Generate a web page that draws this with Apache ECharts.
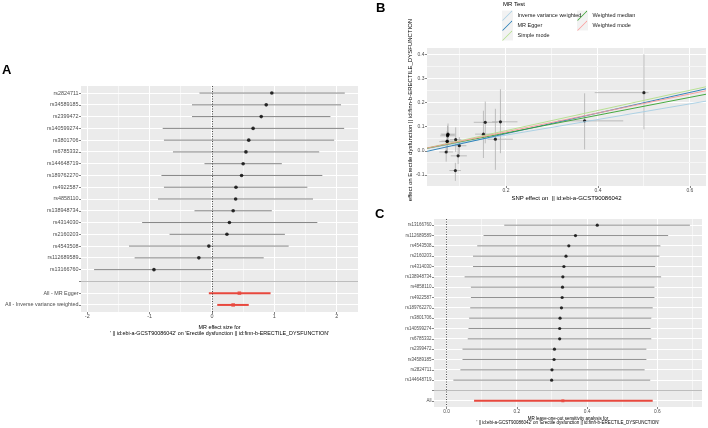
<!DOCTYPE html>
<html><head><meta charset="utf-8">
<script src="https://cdn.jsdelivr.net/npm/echarts@6/dist/echarts.min.js"></script>
<style>html,body{margin:0;padding:0;background:#fff}#c{width:708px;height:428px}</style>
</head><body><div id="c"></div>
<script>
const FONT = '"Liberation Sans", Arial, Helvetica, sans-serif';

// ---------- Panel A : forest plot ----------
const snpA = ['rs2824711','rs34589185','rs2399472','rs140599274','rs3801706','rs6785332','rs144648719','rs189762270','rs4922587','rs4858110','rs138948734','rs4314030','rs2160203','rs4543508','rs112689589','rs13166760'];
const betaA = [0.96,0.87,0.79,0.66,0.59,0.545,0.50,0.475,0.385,0.38,0.34,0.28,0.24,-0.05,-0.21,-0.93];
const lowA  = [-0.20,-0.32,-0.32,-0.79,-0.77,-0.625,-0.12,-0.81,-0.77,-0.865,-0.28,-1.12,-0.68,-1.33,-1.24,-1.89];
const highA = [2.13,2.07,1.90,2.12,1.96,1.72,1.12,1.77,1.53,1.62,0.96,1.69,1.17,1.23,0.83,0.02];
const summaryLabelsA = ['All - MR Egger','All - Inverse variance weighted'];
const summaryBetaA = [0.44,0.34];
const summaryLowA  = [-0.05,0.085];
const summaryHighA = [0.94,0.59];
const ticksA = [-2,-1,0,1,2];
const minorTicksA = [-1.5,-0.5,0.5,1.5];

// ---------- Panel B : scatter plot ----------
const snpXB    = [0.500,0.371,0.188,0.155,0.151,0.177,0.074,0.0735,0.073,0.0725,0.072,0.0907,0.0985,0.070,0.096,0.090];
const snpYB    = [0.241,0.124,0.120,0.118,0.069,0.048,0.069,0.066,0.062,0.038,0.040,0.046,0.021,-0.005,-0.021,-0.082];
const snpXLoB  = [0.393,0.313,0.170,0.130,0.133,0.160,0.058,0.060,0.057,0.055,0.060,0.078,0.083,0.055,0.080,0.077];
const snpXHiB  = [0.510,0.455,0.225,0.182,0.172,0.215,0.090,0.088,0.089,0.090,0.085,0.103,0.114,0.085,0.115,0.102];
const snpYLoB  = [0.089,0.006,-0.010,0.031,-0.030,-0.079,0.025,0.030,0.020,-0.005,0.000,-0.005,-0.015,-0.045,-0.055,-0.125];
const snpYHiB  = [0.400,0.238,0.255,0.204,0.166,0.174,0.113,0.100,0.104,0.081,0.080,0.097,0.057,0.035,0.013,-0.050];
const mrMethods   = ['Inverse variance weighted','MR Egger','Simple mode','Weighted median','Weighted mode'];
const mrSlope     = [0.324,0.427,0.418,0.369,0.392];
const mrIntercept = [0,-0.0144,0,0,0];
const mrColors    = ['#A6CEE3','#1F78B4','#B2DF8A','#33A02C','#FB9A99'];
const ticksXB = [0.2,0.4,0.6];
const minorXB = [0.1,0.3,0.5];
const ticksYB = [-0.1,0.0,0.1,0.2,0.3,0.4];
const minorYB = [-0.05,0.05,0.15,0.25,0.35];

// ---------- Panel C : leave-one-out ----------
const snpC = ['rs13166760','rs112689589','rs4543508','rs2160203','rs4314030','rs138948734','rs4858110','rs4922587','rs189762270','rs3801706','rs140599274','rs6785332','rs2399472','rs34589185','rs2824711','rs144648719'];
const betaC = [0.429,0.367,0.348,0.340,0.334,0.331,0.330,0.329,0.327,0.323,0.322,0.322,0.307,0.306,0.300,0.299];
const lowC  = [0.164,0.105,0.087,0.075,0.075,0.051,0.069,0.069,0.067,0.064,0.062,0.060,0.045,0.045,0.039,0.019];
const highC = [0.693,0.631,0.609,0.606,0.594,0.611,0.592,0.592,0.587,0.583,0.581,0.583,0.569,0.569,0.564,0.580];
const allLabelC = 'All';
const allBetaC = 0.331, allLowC = 0.078, allHighC = 0.587;
const ticksC = [0.0,0.2,0.4,0.6];
const minorTicksC = [0.1,0.3,0.5,0.7];

// ---------- build ----------
const catsA = snpA.concat([''], summaryLabelsA);
const catsC = snpC.concat(['', allLabelC]);
const rowsA = catsA.map((c,i)=>i);
const rowsC = catsC.map((c,i)=>i);

const XA = [-2.1, 2.342];
const YA = [-0.6, rowsA.length-1+0.6];
const XB = [0.0283, 0.635];
const YB = [-0.146, 0.426];
const XC = [-0.0362, 0.7275];
const YC = [-0.6, rowsC.length-1+0.6];

const tickLab = {color:'#4d4d4d', fontFamily:FONT};
const GRID_BG = '#ebebeb';

function valueAxis(gridIndex, range, ticks, fs, fmt, extra){
  return Object.assign({
    type:'value', gridIndex, min:range[0], max:range[1],
    axisLine:{show:false, onZero:false},
    axisTick:{show:true, length:2, lineStyle:{color:'#333', width:0.6}, customValues:ticks},
    axisLabel:Object.assign({fontSize:fs, margin:2.5, customValues:ticks, formatter:fmt}, tickLab),
    splitLine:{show:false}
  }, extra||{});
}
function rowAxis(gridIndex, cats, range, rows, fs){
  return {type:'value', gridIndex, inverse:true, min:range[0], max:range[1],
    axisLine:{show:false, onZero:false},
    axisTick:{show:true, length:2, lineStyle:{color:'#333', width:0.6}, customValues:rows},
    axisLabel:Object.assign({fontSize:fs, margin:2.5, customValues:rows, formatter:v=>cats[Math.round(v)]}, tickLab),
    splitLine:{show:false}};
}
const snap = p => Math.floor(p) + 0.5;
// white panel grid lines, placed through the axes' own scales (pixel-snapped for crispness)
function gridLines(xi, yi, vals, vertical, color, otherRange){
  const mid = (otherRange[0]+otherRange[1])/2;
  return {type:'custom', xAxisIndex:xi, yAxisIndex:yi, z:2, silent:true,
    data:vals.map(v => vertical ? [v, mid] : [mid, v]),
    encode:{x:0, y:1},
    renderItem:function(params, api){
      const v = vertical ? api.value(0) : api.value(1);
      const a = vertical ? api.coord([v, otherRange[0]]) : api.coord([otherRange[0], v]);
      const b = vertical ? api.coord([v, otherRange[1]]) : api.coord([otherRange[1], v]);
      const shape = vertical ? {x1:snap(a[0]), y1:a[1], x2:snap(b[0]), y2:b[1]}
                             : {x1:a[0], y1:snap(a[1]), x2:b[0], y2:snap(b[1])};
      return {type:'line', shape, style:{stroke:color, lineWidth:1}};
    }};
}
function hBar(color, width){
  return function(params, api){
    const a = api.coord([api.value(0), api.value(2)]);
    const b = api.coord([api.value(1), api.value(2)]);
    return {type:'line', silent:true, shape:{x1:a[0],y1:a[1],x2:b[0],y2:b[1]}, style:{stroke:color, lineWidth:width}};
  };
}
function crossBars(params, api){
  const c1 = api.coord([api.value(2), api.value(1)]);
  const c2 = api.coord([api.value(3), api.value(1)]);
  const c3 = api.coord([api.value(0), api.value(4)]);
  const c4 = api.coord([api.value(0), api.value(5)]);
  return {type:'group', silent:true, children:[
    {type:'line', shape:{x1:c1[0],y1:c1[1],x2:c2[0],y2:c2[1]}, style:{stroke:'#b0b0b0', lineWidth:0.8}},
    {type:'line', shape:{x1:c3[0],y1:c3[1],x2:c4[0],y2:c4[1]}, style:{stroke:'#b0b0b0', lineWidth:0.8}}
  ]};
}
const fmt1 = v => v.toFixed(1);
const fmt0 = v => String(Math.round(v));
function zeroLine(){ return {silent:true, symbol:'none', label:{show:false},
  lineStyle:{type:[1,1.5], color:'#222', width:0.8}, data:[{xAxis:0}]}; }
function sepLine(row){ return {silent:true, symbol:'none', label:{show:false},
  lineStyle:{type:'solid', color:'#bdbdbd', width:1}, data:[{yAxis:row}]}; }

const MAJOR = '#ffffff', MINOR = '#f6f6f6';
const series = [];
// grid lines
series.push(gridLines(0,0,minorTicksA,true,MINOR,YA));
series.push(gridLines(0,0,ticksA,true,MAJOR,YA));
series.push(gridLines(0,0,rowsA,false,MAJOR,XA));
series.push(gridLines(1,1,minorXB,true,MINOR,YB));
series.push(gridLines(1,1,ticksXB,true,MAJOR,YB));
series.push(gridLines(1,1,minorYB,false,MINOR,XB));
series.push(gridLines(1,1,ticksYB,false,MAJOR,XB));
series.push(gridLines(2,2,minorTicksC,true,MINOR,YC));
series.push(gridLines(2,2,ticksC,true,MAJOR,YC));
series.push(gridLines(2,2,rowsC,false,MAJOR,XC));
// A
series.push({type:'custom', name:'A-ci', xAxisIndex:0, yAxisIndex:0, z:3,
  data:snpA.map((s,i)=>[lowA[i], highA[i], rowsA[i]]), encode:{x:[0,1], y:2},
  renderItem:hBar('#858585', 1), markLine:sepLine(snpA.length)});
series.push({type:'custom', name:'A-sum-ci', xAxisIndex:0, yAxisIndex:0, z:3,
  data:summaryLabelsA.map((s,i)=>[summaryLowA[i], summaryHighA[i], rowsA[snpA.length+1+i]]), encode:{x:[0,1], y:2},
  renderItem:hBar('#e8483e', 2)});
series.push({type:'scatter', name:'A-pt', xAxisIndex:0, yAxisIndex:0, z:4, symbol:'circle', symbolSize:3.6,
  itemStyle:{color:'#000'}, silent:true, data:snpA.map((s,i)=>[betaA[i], rowsA[i]]), markLine:zeroLine()});
series.push({type:'scatter', name:'A-sum-pt', xAxisIndex:0, yAxisIndex:0, z:4, symbol:'rect', symbolSize:3.6,
  itemStyle:{color:'#e8483e'}, silent:true, data:summaryLabelsA.map((s,i)=>[summaryBetaA[i], rowsA[snpA.length+1+i]])});
// B
series.push({type:'custom', name:'B-ci', xAxisIndex:1, yAxisIndex:1, z:3,
  data:snpXB.map((x,i)=>[x, snpYB[i], snpXLoB[i], snpXHiB[i], snpYLoB[i], snpYHiB[i]]),
  encode:{x:[0,2,3], y:[1,4,5]}, renderItem:crossBars});
series.push({type:'scatter', name:'B-pt', xAxisIndex:1, yAxisIndex:1, z:4, symbolSize:3.2, silent:true,
  itemStyle:{color:'#000'}, data:snpXB.map((x,i)=>[x, snpYB[i]])});
mrMethods.forEach((m,k)=>{
  series.push({type:'line', name:m, xAxisIndex:1, yAxisIndex:1, z:6, symbol:'none', silent:true, clip:true,
    lineStyle:{color:mrColors[k], width:0.9}, itemStyle:{color:mrColors[k]},
    data:[[XB[0], mrIntercept[k]+mrSlope[k]*XB[0]], [XB[1], mrIntercept[k]+mrSlope[k]*XB[1]]]});
});
// C
series.push({type:'custom', name:'C-ci', xAxisIndex:2, yAxisIndex:2, z:3,
  data:snpC.map((s,i)=>[lowC[i], highC[i], rowsC[i]]), encode:{x:[0,1], y:2},
  renderItem:hBar('#858585', 0.9), markLine:sepLine(snpC.length)});
series.push({type:'custom', name:'C-all-ci', xAxisIndex:2, yAxisIndex:2, z:3,
  data:[[allLowC, allHighC, rowsC[snpC.length+1]]], encode:{x:[0,1], y:2}, renderItem:hBar('#e8483e', 2)});
series.push({type:'scatter', name:'C-pt', xAxisIndex:2, yAxisIndex:2, z:4, symbolSize:3.2, silent:true,
  itemStyle:{color:'#000'}, data:snpC.map((s,i)=>[betaC[i], rowsC[i]]), markLine:zeroLine()});
series.push({type:'scatter', name:'C-all-pt', xAxisIndex:2, yAxisIndex:2, z:4, symbol:'rect', symbolSize:3, silent:true,
  itemStyle:{color:'#e8483e'}, data:[[allBetaC, rowsC[snpC.length+1]]]});

const legendBase = {orient:'vertical', itemWidth:11, itemHeight:10, itemGap:0, padding:0, selectedMode:false,
  icon:'path://M0,10L10,0L10,1.1L1.1,10Z', itemStyle:{borderWidth:0},
  textStyle:{fontSize:5.5, color:'#1a1a1a', fontFamily:FONT}};

const option = {
  animation:false,
  backgroundColor:'#fff',
  textStyle:{fontFamily:FONT},
  grid:[
    {left:81, top:86, width:277, height:226, show:true, z:0, backgroundColor:GRID_BG, borderWidth:0, outerBoundsMode:'none'},
    {left:427, top:48, width:279, height:138, show:true, z:0, backgroundColor:GRID_BG, borderWidth:0, outerBoundsMode:'none'},
    {left:434, top:219, width:268, height:188, show:true, z:0, backgroundColor:GRID_BG, borderWidth:0, outerBoundsMode:'none'}
  ],
  xAxis:[
    valueAxis(0, XA, ticksA, 5.4, fmt0, {name:"MR effect size for\n' || id:ebi-a-GCST90086042' on 'Erectile dysfunction || id:finn-b-ERECTILE_DYSFUNCTION'",
      nameLocation:'middle', nameGap:11, nameTextStyle:{fontSize:5.4, color:'#000', lineHeight:6, fontFamily:FONT}}),
    valueAxis(1, XB, ticksXB, 5, fmt1, {name:'SNP effect on  || id:ebi-a-GCST90086042',
      nameLocation:'middle', nameGap:9, nameTextStyle:{fontSize:6, color:'#000', fontFamily:FONT}}),
    valueAxis(2, XC, ticksC, 4.8, fmt1, {name:"MR leave-one-out sensitivity analysis for\n' || id:ebi-a-GCST90086042' on 'Erectile dysfunction || id:finn-b-ERECTILE_DYSFUNCTION'",
      nameLocation:'middle', nameGap:9, nameTextStyle:{fontSize:4.5, color:'#000', lineHeight:4.8, fontFamily:FONT}})
  ],
  yAxis:[
    rowAxis(0, catsA, YA, rowsA, 5.4),
    valueAxis(1, YB, ticksYB, 5, fmt1),
    rowAxis(2, catsC, YC, rowsC, 4.5)
  ],
  legend:[
    Object.assign({}, legendBase, {left:502, top:10.5, data:mrMethods.slice(0,3)}),
    Object.assign({}, legendBase, {left:577, top:10.5, data:mrMethods.slice(3)})
  ],
  graphic:[
    {type:'text', left:2, top:64, z:10, style:{text:'A', font:'bold 13px '+FONT, fill:'#000'}},
    {type:'text', left:376, top:2, z:10, style:{text:'B', font:'bold 13px '+FONT, fill:'#000'}},
    {type:'text', left:375, top:207.5, z:10, style:{text:'C', font:'bold 13px '+FONT, fill:'#000'}},
    {type:'text', x:503, y:4.5, z:10, style:{text:'MR Test', font:'6px '+FONT, fill:'#000', textVerticalAlign:'middle'}},
    {type:'rect', x:502, y:10.5, z:1, shape:{width:11, height:30}, style:{fill:'#f2f2f2'}},
    {type:'rect', x:577, y:10.5, z:1, shape:{width:11, height:20}, style:{fill:'#f2f2f2'}},
    {type:'text', x:410, y:117, rotation:Math.PI/2, z:10,
      style:{text:'SNP effect on Erectile dysfunction || id:finn-b-ERECTILE_DYSFUNCTION', font:'6px '+FONT, fill:'#000', textAlign:'center', textVerticalAlign:'middle'}},
    {type:'rect', x:400, y:203, z:20, shape:{width:20, height:15}, style:{fill:'#fff'}}
  ],
  series
};
const chart = echarts.init(document.getElementById('c'), null, {renderer:'canvas'});
chart.setOption(option);
</script></body></html>
